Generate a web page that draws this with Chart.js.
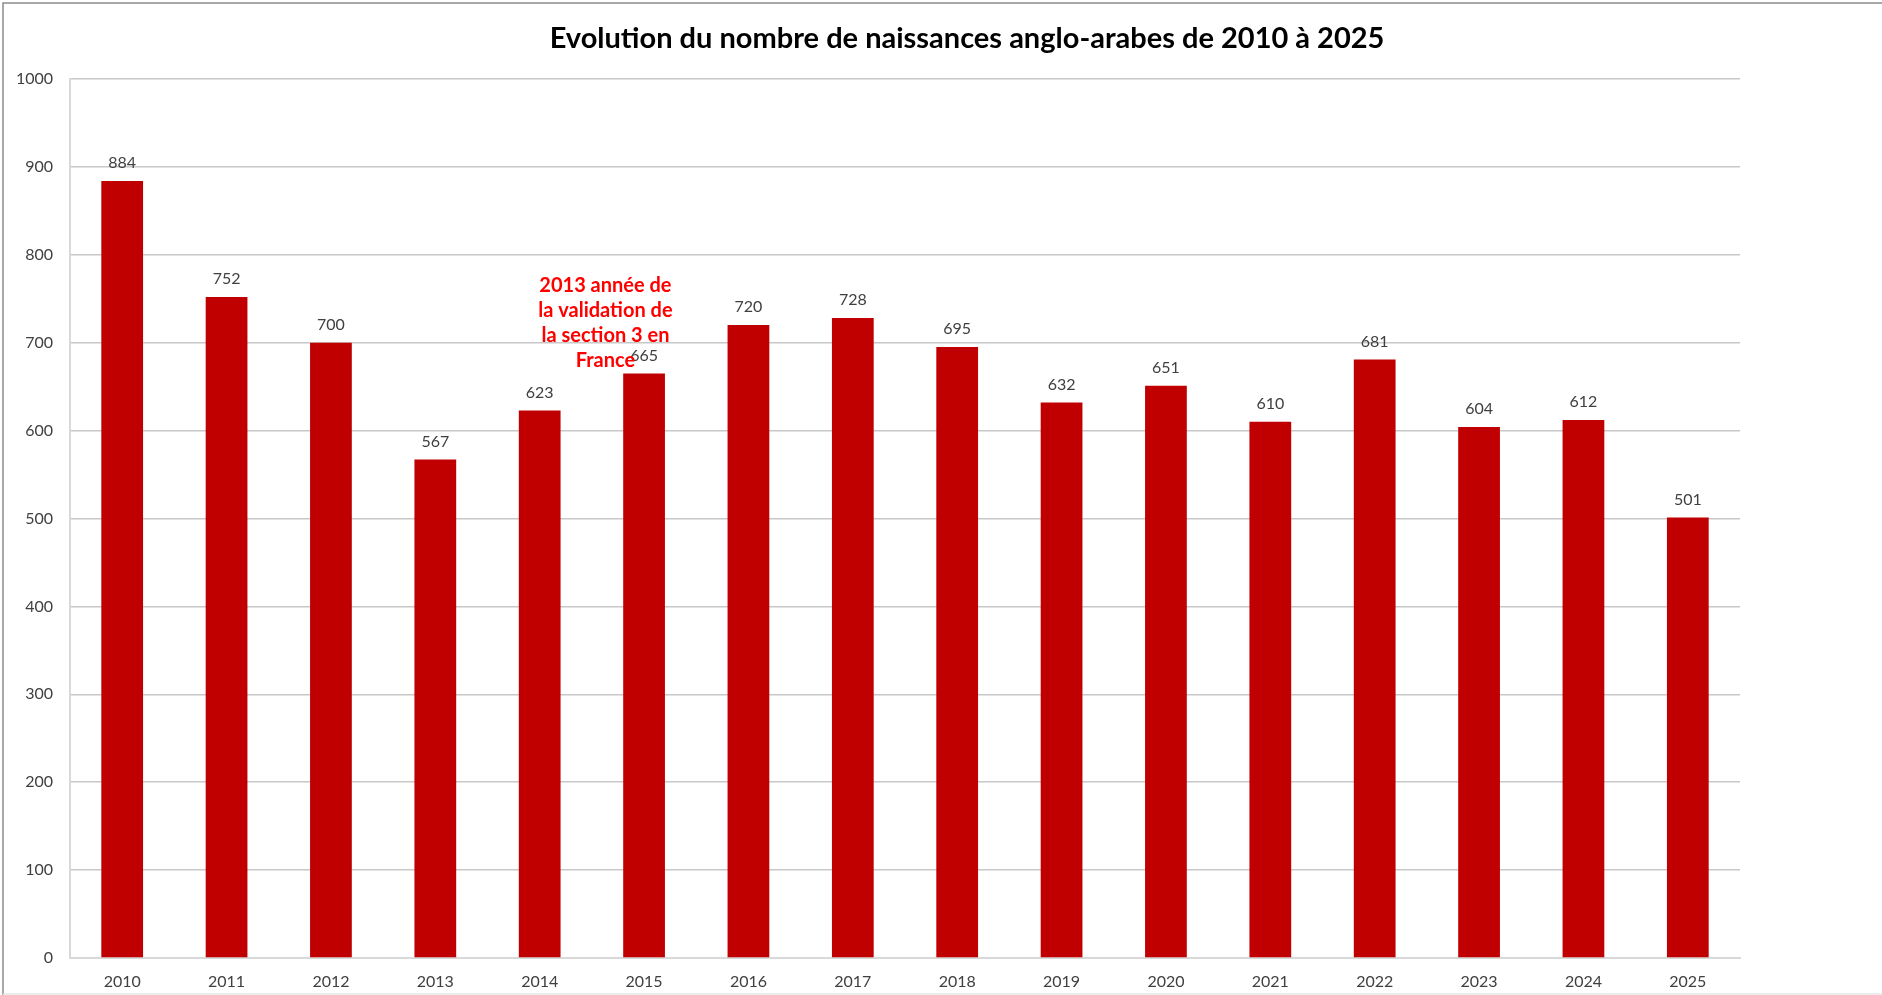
<!DOCTYPE html>
<html>
<head>
<meta charset="utf-8">
<script src="https://cdn.jsdelivr.net/npm/chart.js@4.4.1/dist/chart.umd.min.js"></script>
<style>
  html, body { margin: 0; padding: 0; background: #fff; }
  #wrap { position: relative; width: 1882px; height: 995px; }
</style>
</head>
<body>
<div id="wrap"><canvas id="births" width="1882" height="995"></canvas></div>
<script>
// chart data
const years = ["2010", "2011", "2012", "2013", "2014", "2015", "2016", "2017",
               "2018", "2019", "2020", "2021", "2022", "2023", "2024", "2025"];
const births = [884, 752, 700, 567, 623, 665, 720, 728, 695, 632, 651, 610, 681, 604, 612, 501];
const yTicks = [0, 100, 200, 300, 400, 500, 600, 700, 800, 900, 1000];
const noteLines = ["2013 année de", "la validation de", "la section 3 en", "France"];
const chartTitle = "Evolution du nombre de naissances anglo-arabes de 2010 à 2025";

const FONT = "Lato, 'Open Sans', sans-serif";

// value labels above each bar
const barLabels = {
  id: "barLabels",
  afterDatasetsDraw(chart) {
    const ctx = chart.ctx;
    const meta = chart.getDatasetMeta(0);
    ctx.save();
    ctx.font = "16px " + FONT;
    ctx.fillStyle = "#404040";
    ctx.textAlign = "center";
    ctx.textBaseline = "middle";
    meta.data.forEach((bar, i) => {
      ctx.fillText(births[i], bar.x, bar.y - 18);
    });
    ctx.restore();
  }
};

// red text box next to 2014/2015
const note = {
  id: "note",
  afterDatasetsDraw(chart) {
    const ctx = chart.ctx;
    const x = chart.scales.x.getPixelForValue(4.63);
    const y = chart.scales.y.getPixelForValue(765);
    ctx.save();
    ctx.font = "bold 20px " + FONT;
    ctx.fillStyle = "#ff0000";
    ctx.textAlign = "center";
    ctx.textBaseline = "middle";
    noteLines.forEach((line, i) => ctx.fillText(line, x, y + i * 25));
    ctx.restore();
  }
};

// frame + title (title sits off-centre in the original, like the excel chart)
const frame = {
  id: "frame",
  beforeDraw(chart) {
    const ctx = chart.ctx;
    ctx.save();
    ctx.fillStyle = "#fff";
    ctx.fillRect(0, 0, chart.width, chart.height);
    ctx.strokeStyle = "#8c8c8c";
    ctx.lineWidth = 1.5;
    ctx.beginPath();
    ctx.moveTo(3, chart.height);
    ctx.lineTo(3, 3);
    ctx.lineTo(chart.width, 3);
    ctx.stroke();
    ctx.strokeStyle = "#e6e6e6";
    ctx.beginPath();
    ctx.moveTo(3, chart.height - 1);
    ctx.lineTo(chart.width, chart.height - 1);
    ctx.stroke();
    ctx.restore();
  },
  afterDraw(chart) {
    const ctx = chart.ctx;
    ctx.save();
    ctx.font = "bold 29px " + FONT;
    ctx.fillStyle = "#000";
    ctx.textAlign = "center";
    ctx.textBaseline = "middle";
    ctx.fillText(chartTitle, 967, 39);
    ctx.restore();
  }
};

new Chart(document.getElementById("births"), {
  type: "bar",
  data: {
    labels: years,
    datasets: [{
      data: births,
      backgroundColor: "#c00000",
      borderWidth: 0,
      barPercentage: 0.4,
      categoryPercentage: 1.0
    }]
  },
  options: {
    responsive: false,
    animation: false,
    devicePixelRatio: 1,
    layout: { padding: { left: 0, right: 142, top: 79, bottom: 0 } },
    plugins: {
      legend: { display: false },
      tooltip: { enabled: false },
      title: { display: false }
    },
    scales: {
      x: {
        grid: { display: false, drawTicks: false },
        border: { color: "#d9d9d9", width: 2 },
        ticks: { color: "#404040", font: { family: FONT, size: 16 }, padding: 14, maxRotation: 0 },
        afterFit(scale) { scale.height = 37; }
      },
      y: {
        min: 0,
        max: 1000,
        afterBuildTicks(scale) { scale.ticks = yTicks.map(v => ({ value: v })); },
        grid: { color: "#c8c8c8", lineWidth: 1.5, drawTicks: false },
        border: { color: "#d9d9d9", width: 2 },
        ticks: {
          color: "#404040",
          font: { family: FONT, size: 16 },
          padding: 17,
          callback: (v) => String(v)
        },
        afterFit(scale) { scale.width = 70; }
      }
    }
  },
  plugins: [frame, barLabels, note]
});
</script>
</body>
</html>
